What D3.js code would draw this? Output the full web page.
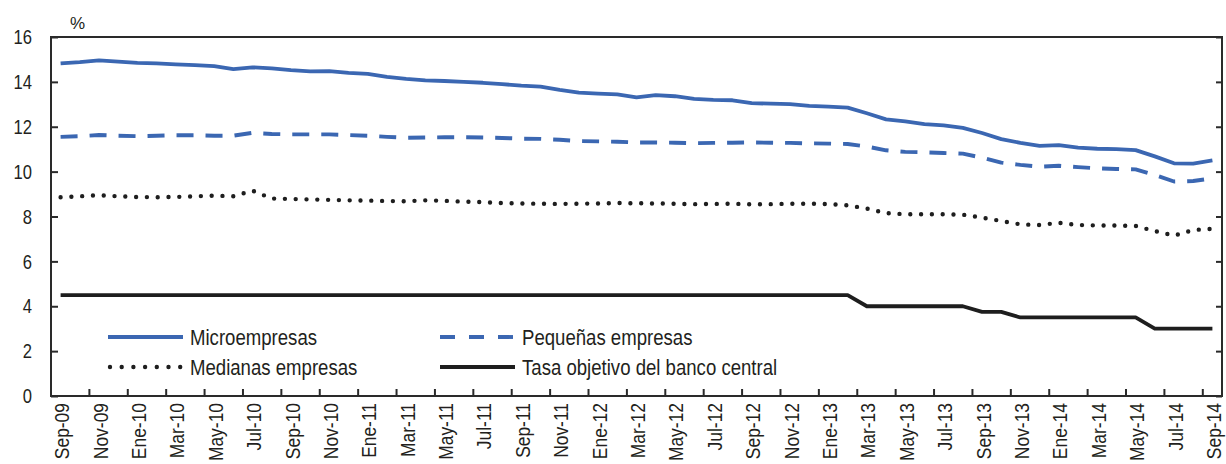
<!DOCTYPE html>
<html>
<head>
<meta charset="utf-8">
<script src="https://cdn.jsdelivr.net/npm/d3@7"></script>
<style>
  html, body { margin: 0; padding: 0; background: #fff; }
  svg { display: block; }
  text { font-family: "Liberation Sans", Arial, sans-serif; fill: #231f20; }
</style>
</head>
<body>
<svg id="chart" width="1226" height="464"></svg>
<script>
// ---- Data ----
const monthNames = ["Ene","Feb","Mar","Abr","May","Jun","Jul","Ago","Sep","Oct","Nov","Dic"];
// Months Sep-2009 .. Sep-2014 (61 monthly observations)
const months = [];
for (let k = 0; k < 61; k++) {
  const m = (8 + k) % 12, yy = 9 + Math.floor((8 + k) / 12);
  months.push(monthNames[m] + "-" + String(yy).padStart(2, "0"));
}
const yTicks = [0, 2, 4, 6, 8, 10, 12, 14, 16];

const microempresas = [14.82,14.88,14.96,14.90,14.85,14.82,14.78,14.75,14.70,14.57,
  14.65,14.60,14.52,14.47,14.48,14.40,14.36,14.22,14.13,14.07,
  14.04,14.00,13.96,13.90,13.83,13.79,13.64,13.52,13.48,13.44,
  13.31,13.41,13.36,13.24,13.20,13.18,13.05,13.03,13.01,12.93,
  12.90,12.85,12.60,12.33,12.24,12.12,12.06,11.95,11.72,11.45,
  11.28,11.15,11.18,11.07,11.02,11.00,10.96,10.68,10.37,10.36,10.50];
const pequenas = [11.55,11.58,11.63,11.60,11.58,11.60,11.62,11.62,11.60,11.60,
  11.73,11.68,11.66,11.66,11.66,11.63,11.60,11.55,11.51,11.52,
  11.53,11.53,11.52,11.50,11.47,11.46,11.42,11.36,11.35,11.33,
  11.30,11.30,11.29,11.27,11.28,11.29,11.30,11.29,11.28,11.26,
  11.25,11.23,11.12,10.95,10.88,10.86,10.83,10.80,10.62,10.40,
  10.30,10.22,10.26,10.20,10.15,10.12,10.10,9.85,9.56,9.58,9.70];
const medianas = [8.86,8.90,8.95,8.90,8.87,8.86,8.87,8.90,8.93,8.90,
  9.15,8.80,8.78,8.76,8.74,8.72,8.71,8.69,8.68,8.72,
  8.70,8.66,8.64,8.60,8.58,8.57,8.56,8.57,8.58,8.60,
  8.59,8.58,8.57,8.55,8.56,8.57,8.54,8.55,8.57,8.57,
  8.55,8.50,8.35,8.15,8.10,8.10,8.10,8.08,7.95,7.80,
  7.65,7.62,7.72,7.62,7.60,7.60,7.58,7.35,7.15,7.40,7.45];
const tasaObjetivo = [4.5,4.5,4.5,4.5,4.5,4.5,4.5,4.5,4.5,4.5,
  4.5,4.5,4.5,4.5,4.5,4.5,4.5,4.5,4.5,4.5,
  4.5,4.5,4.5,4.5,4.5,4.5,4.5,4.5,4.5,4.5,
  4.5,4.5,4.5,4.5,4.5,4.5,4.5,4.5,4.5,4.5,
  4.5,4.5,4.0,4.0,4.0,4.0,4.0,4.0,3.75,3.75,
  3.5,3.5,3.5,3.5,3.5,3.5,3.5,3.0,3.0,3.0,3.0];

const seriesNames = ["Microempresas", "Pequeñas empresas", "Medianas empresas", "Tasa objetivo del banco central"];

// ---- Layout ----
const pLeft = 51, pRight = 1222, pTop = 37, pBottom = 396;
const blue = "#3b67b2", black = "#1e1e1e", axisCol = "#2a2a2a";
const narrow = 0.83; // condensed type look

const svg = d3.select("#chart");
const x = d3.scaleBand().domain(months).range([pLeft, pRight]).paddingInner(0).paddingOuter(0);
const y = d3.scaleLinear().domain([0, 16]).range([pBottom, pTop]);
const cx = i => x(months[i]) + x.bandwidth() / 2;

const line = d3.line().x((d, i) => cx(i)).y(d => y(d));

const series = [
  { name: seriesNames[0], data: microempresas, color: blue, width: 3.8, dash: null, cap: "butt" },
  { name: seriesNames[1], data: pequenas, color: blue, width: 3.9, dash: "17,12", cap: "butt" },
  { name: seriesNames[2], data: medianas, color: black, width: 4.4, dash: "0,10.8", cap: "round" },
  { name: seriesNames[3], data: tasaObjetivo, color: black, width: 3.8, dash: null, cap: "butt" }
];

// lines
const gLines = svg.append("g");
series.forEach(s => {
  gLines.append("path")
    .datum(s.data)
    .attr("d", line)
    .attr("fill", "none")
    .attr("stroke", s.color)
    .attr("stroke-width", s.width)
    .attr("stroke-linecap", s.cap)
    .attr("stroke-linejoin", "round")
    .attr("stroke-dasharray", s.dash);
});

// frame
svg.append("rect")
  .attr("x", pLeft).attr("y", pTop)
  .attr("width", pRight - pLeft).attr("height", pBottom - pTop)
  .attr("fill", "none").attr("stroke", axisCol).attr("stroke-width", 2);

// y axis (left), ticks inward
const yAxis = d3.axisRight(y).tickValues(yTicks).tickSize(7).tickFormat("");
svg.append("g").attr("transform", `translate(${pLeft},0)`).call(yAxis)
  .call(g => g.select(".domain").remove())
  .call(g => g.selectAll("line").attr("stroke", axisCol).attr("stroke-width", 2));
svg.append("g").selectAll("text").data(yTicks).join("text")
  .attr("transform", d => `translate(32,${y(d)}) scale(${narrow},1)`)
  .attr("dy", "0.36em")
  .attr("text-anchor", "end").attr("font-size", 20).text(d => d);

// right axis, ticks inward, no labels
const yAxisR = d3.axisLeft(y).tickValues(yTicks).tickSize(6).tickFormat("");
svg.append("g").attr("transform", `translate(${pRight},0)`).call(yAxisR)
  .call(g => g.select(".domain").remove())
  .call(g => g.selectAll("line").attr("stroke", axisCol).attr("stroke-width", 2));

// x axis ticks (every two months at category boundaries), inward
const tickMonths = months.filter((m, i) => i % 2 === 0);
svg.append("g").selectAll("line").data(tickMonths).join("line")
  .attr("x1", d => x(d)).attr("x2", d => x(d))
  .attr("y1", pBottom).attr("y2", pBottom - 7)
  .attr("stroke", axisCol).attr("stroke-width", 2);
svg.append("g").selectAll("text").data(tickMonths).join("text")
  .attr("transform", d => `translate(${x(d) + x.bandwidth() / 2 + 1},${pBottom + 7}) rotate(-90) scale(${narrow},1)`)
  .attr("dy", "0.36em")
  .attr("text-anchor", "end").attr("font-size", 21).text(d => d);

// % label
svg.append("text").attr("x", 70).attr("y", 29).attr("font-size", 17).text("%");

// legend
const legendItems = [
  { s: series[0], lx: 108, ly: 337 },
  { s: series[1], lx: 440, ly: 337 },
  { s: series[2], lx: 108, ly: 367 },
  { s: series[3], lx: 440, ly: 367 }
];
const gLeg = svg.append("g");
legendItems.forEach(it => {
  const s = it.s;
  gLeg.append("line")
    .attr("x1", it.lx + (s.cap === "round" ? 2 : 0)).attr("x2", it.lx + 75)
    .attr("y1", it.ly).attr("y2", it.ly)
    .attr("stroke", s.color).attr("stroke-width", s.width)
    .attr("stroke-linecap", s.cap)
    .attr("stroke-dasharray", s.cap === "round" ? "0,11.7" : (s.dash ? "15,14" : null));
  gLeg.append("text")
    .attr("transform", `translate(${it.lx + 82},${it.ly}) scale(0.845,1)`)
    .attr("dy", "0.36em")
    .attr("font-size", 22).text(s.name);
});
</script>
</body>
</html>
